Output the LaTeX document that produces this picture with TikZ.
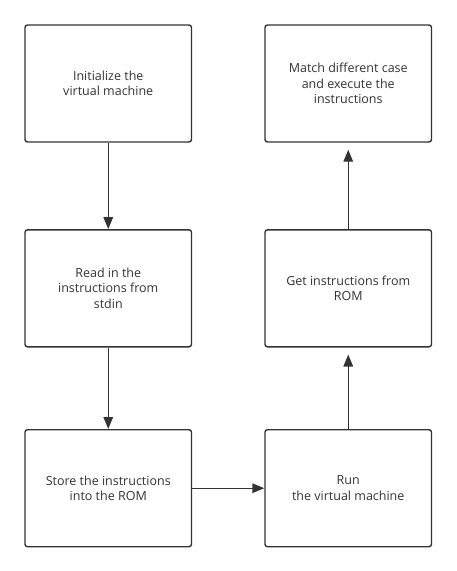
\documentclass[tikz,border=0pt]{standalone}
\usepackage{fontspec}
\setmainfont{Open Sans}
\usetikzlibrary{arrows.meta}
\definecolor{ln}{HTML}{333333}
\definecolor{tx}{HTML}{333333}
\begin{document}
\begin{tikzpicture}[x=1pt,y=-1pt,
  box/.style={draw=ln,line width=1.4pt,rounded corners=2.5pt,minimum width=166.5pt,minimum height=117pt,
    align=center,text=tx,font=\fontsize{12.5}{15.5}\selectfont,inner sep=0pt},
  conn/.style={draw=ln,line width=1.4pt,-{Triangle[length=12pt,width=9.5pt]}}]
\useasboundingbox (0,0) rectangle (456,571);
\node[box] (init) at (108.25,83.5) {Initialize the\\virtual machine};
\node[box] (read) at (108.25,288.3) {Read in the\\instructions from\\stdin};
\node[box] (store) at (108.25,488.2) {Store the instructions\\into the ROM};
\node[box] (run) at (348.25,488.2) {Run\\the virtual machine};
\node[box] (get) at (348.25,288.3) {Get instructions from\\ROM};
\node[box] (match) at (348.25,83.5) {Match different case\\and execute the\\instructions};
\draw[conn] (init) -- (read);
\draw[conn] (read) -- (store);
\draw[conn] (store) -- (run);
\draw[conn,shorten >=7pt] (run) -- (get);
\draw[conn,shorten >=7pt] (get) -- (match);
\end{tikzpicture}
\end{document}
